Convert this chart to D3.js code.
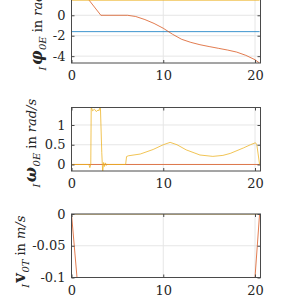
<!DOCTYPE html>
<html>
<head>
<meta charset="utf-8">
<script src="https://cdn.jsdelivr.net/npm/d3@7"></script>
<style>
  body { margin: 0; background: #fff; }
  svg { display: block; }
</style>
</head>
<body>
<div id="chart"></div>
<script>
// x ticks shared by every panel
const xTicks = [0, 10, 20];

// panel 1: angle in rad
const phiRedT = [0, 1.2, 3.2, 6.1, 7, 8, 9, 10, 11, 12, 13, 14, 15, 16, 17, 18, 19, 20, 20.5];
const phiRedV = [2.3, 2.3, 0, 0, -0.12, -0.42, -0.8, -1.27, -1.85, -2.35, -2.65, -2.88, -3.06, -3.23, -3.4, -3.6, -3.92, -4.35, -4.68];
const phiBlueT = [0, 20.5];
const phiBlueV = [-1.6, -1.6];
const phiYellowT = [0, 20.5];
const phiYellowV = [1.47, 1.47];
const phiTicks = [-4, -2, 0];
const phiTickLabels = ["-4", "-2", "0"];

// panel 2: angular rate in rad/s
const omRedT = [0, 20.5];
const omRedV = [0, 0];
const omYellowT = [0, 1.9, 2.0, 2.1, 2.15, 2.3, 2.5, 2.7, 2.9, 3.0, 3.1, 3.15, 3.3, 3.4, 3.5, 3.6, 3.7, 3.8, 3.9, 5.9, 6.0, 6.2, 7.5, 8.9, 10, 10.75, 11.5, 12.5, 14, 15.4, 16.5, 17.3, 18.75, 19.5, 20.05, 20.2, 20.5];
const omYellowV = [0, 0, -0.08, 0, 1.46, 1.36, 1.4, 1.34, 1.38, 1.36, 1.46, 1.46, 0.3, -0.2, 0.05, -0.05, 0.04, -0.02, 0, 0, 0.2, 0.22, 0.265, 0.38, 0.5, 0.56, 0.5, 0.37, 0.24, 0.205, 0.23, 0.28, 0.42, 0.5, 0.55, 0.5, 0];
const omTicks = [0, 0.5, 1];
const omTickLabels = ["0", "0.5", "1"];

// panel 3: velocity in m/s
const vRedT = [0, 0.6, 20, 20.5];
const vRedV = [0, -0.1, -0.1, 0];
const vYellowT = [0, 20.5];
const vYellowV = [0, 0];
const vTicks = [-0.1, -0.05, 0];
const vTickLabels = ["-0.1", "-0.05", "0"];

const W = 289, H = 306;
const blue = "#0072BD", red = "#D95319", yellow = "#EDB120";
const serif = "DejaVu Serif";

const svg = d3.select("#chart").append("svg")
    .attr("width", W)
    .attr("height", H);

const x = d3.scaleLinear().domain([0, 20]).range([71.5, 255]);
const xMax = 20.6;

function zip(ts, vs) {
    return ts.map((t, i) => [t, vs[i]]);
}

// one subplot: box, grid, ticks, lines, label
function panel(opt) {
    const top = opt.top, bottom = opt.bottom;
    const left = x(0), right = x(xMax);
    const y = d3.scaleLinear().domain(opt.domain).range([bottom, top]);
    const g = svg.append("g");

    const clipId = "clip" + opt.id;
    svg.append("clipPath").attr("id", clipId)
        .append("rect")
        .attr("x", left).attr("y", top)
        .attr("width", right - left).attr("height", bottom - top);

    // grid
    g.selectAll(".gx").data(xTicks).join("line")
        .attr("x1", d => x(d)).attr("x2", d => x(d))
        .attr("y1", top).attr("y2", bottom)
        .attr("stroke", "#e6e6e6").attr("stroke-width", 1);
    g.selectAll(".gy").data(opt.ticks).join("line")
        .attr("x1", left).attr("x2", right)
        .attr("y1", d => y(d)).attr("y2", d => y(d))
        .attr("stroke", "#e6e6e6").attr("stroke-width", 1);

    // data lines
    const line = d3.line().x(d => x(d[0])).y(d => y(d[1]));
    const lg = g.append("g").attr("clip-path", "url(#" + clipId + ")");
    opt.series.forEach(s => {
        lg.append("path")
            .attr("d", line(zip(s.t, s.v)))
            .attr("fill", "none")
            .attr("stroke", s.color)
            .attr("stroke-opacity", 0.85)
            .attr("stroke-width", 0.9)
            .attr("stroke-linejoin", "round");
    });

    // box
    g.append("rect")
        .attr("x", left).attr("y", top)
        .attr("width", right - left).attr("height", bottom - top)
        .attr("fill", "none").attr("stroke", "#4a4a4a").attr("stroke-width", 1);

    // axes with inward ticks
    g.append("g").attr("transform", "translate(0," + bottom + ")")
        .call(d3.axisBottom(x).tickValues(xTicks).tickSizeInner(-3).tickSizeOuter(0).tickPadding(8));
    g.append("g").attr("transform", "translate(" + left + ",0)")
        .call(d3.axisLeft(y).tickValues(opt.ticks).tickFormat((d, i) => opt.labels[i])
            .tickSizeInner(-3).tickSizeOuter(0).tickPadding(6));
    // mirrored ticks on the right and top
    g.append("g").attr("transform", "translate(" + right + ",0)")
        .call(d3.axisRight(y).tickValues(opt.ticks).tickSizeInner(-3).tickSizeOuter(0).tickFormat(""));
    g.append("g").attr("transform", "translate(0," + top + ")")
        .call(d3.axisTop(x).tickValues(xTicks).tickSizeInner(-3).tickSizeOuter(0).tickFormat(""));

    g.selectAll(".domain").remove();
    g.selectAll(".tick line").attr("stroke", "#4a4a4a");
    g.selectAll("g").attr("font-family", serif);
    g.selectAll(".tick text")
        .style("font-family", serif)
        .attr("font-size", 13)
        .attr("fill", "#262626");

    // y label
    const lab = svg.append("text")
        .attr("transform", "translate(" + opt.labelX + "," + ((top + bottom) / 2 + opt.labelDy) + ") rotate(-90)")
        .attr("text-anchor", "middle")
        .style("font-family", serif)
        .attr("font-size", 13)
        .attr("fill", "#262626");
    opt.label.forEach(p => {
        const ts = lab.append("tspan").text(p.t);
        if (p.size) ts.attr("font-size", p.size);
        if (p.dy) ts.attr("dy", p.dy);
        if (p.dx) ts.attr("dx", p.dx);
        if (p.italic) ts.attr("font-style", "italic");
        if (p.bold) ts.attr("font-weight", "bold");
    });
}

function labelParts(sym, symItalic, sub, unit) {
    return [
        {t: "I", size: 10, dy: 3.5, italic: true},
        {t: sym, size: 16, dy: -3.5, dx: 1.5, bold: true, italic: symItalic},
        {t: sub, size: 10, dy: 3.5, dx: 0.5, italic: true},
        {t: "in", dy: -3.5, dx: 4},
        {t: unit, dx: 4, italic: true}
    ];
}

panel({
    id: 1, top: -7, bottom: 63, domain: [-4.67, 2.18],
    ticks: phiTicks, labels: phiTickLabels, labelX: 42, labelDy: 4,
    series: [
        {t: phiBlueT, v: phiBlueV, color: blue},
        {t: phiRedT, v: phiRedV, color: red},
        {t: phiYellowT, v: phiYellowV, color: yellow}
    ],
    label: labelParts("\u03C6", true, "0E", "rad")
});

panel({
    id: 2, top: 107.5, bottom: 171, domain: [-0.165, 1.443],
    ticks: omTicks, labels: omTickLabels, labelX: 36, labelDy: 4,
    series: [
        {t: omRedT, v: omRedV, color: red},
        {t: omYellowT, v: omYellowV, color: yellow}
    ],
    label: labelParts("\u03C9", true, "0E", "rad/s")
});

panel({
    id: 3, top: 214, bottom: 277.5, domain: [-0.1, 0],
    ticks: vTicks, labels: vTickLabels, labelX: 25, labelDy: 6,
    series: [
        {t: vRedT, v: vRedV, color: red},
        {t: vYellowT, v: vYellowV, color: yellow}
    ],
    label: labelParts("v", false, "0T", "m/s")
});
</script>
</body>
</html>
